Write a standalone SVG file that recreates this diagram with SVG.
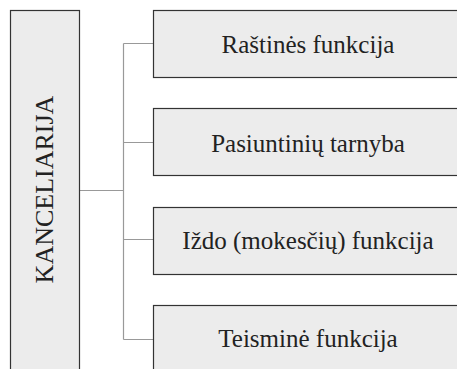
<svg xmlns="http://www.w3.org/2000/svg" width="457" height="369" viewBox="0 0 457 369">
<style>
.box{fill:#ececec;stroke:#333;stroke-width:1.2}
.t{font-size:25px;fill:#222;text-anchor:middle}
.c{fill:none;stroke:#999;stroke-width:1.2}
</style>
<rect width="457" height="369" fill="#fff"/>
<g id="connectors">
<path class="c" d="M79.5 190.5H123.5M123.5 43.5V339.5M123.5 43.5H153M123.5 142.5H153M123.5 239.5H153M123.5 339.5H153"/>
</g>
<g id="kanceliarija">
<rect class="box" x="10.5" y="10.5" width="69" height="370"/>
<text class="t" font-family="Liberation Serif, DejaVu Serif, serif" transform="translate(53,189.5) rotate(-90)" style="font-size:26px">KANCELIARIJA</text>
</g>
<g id="rastines">
<rect class="box" x="153.5" y="10.5" width="320" height="67"/>
<text class="t" font-family="Liberation Serif, DejaVu Serif, serif" x="308" y="53">Raštinės funkcija</text>
</g>
<g id="pasiuntiniu">
<rect class="box" x="153.5" y="108.5" width="320" height="67"/>
<text class="t" font-family="Liberation Serif, DejaVu Serif, serif" x="308" y="151.5">Pasiuntinių tarnyba</text>
</g>
<g id="izdo">
<rect class="box" x="153.5" y="207.5" width="320" height="67"/>
<text class="t" font-family="Liberation Serif, DejaVu Serif, serif" x="308" y="249">Iždo (mokesčių) funkcija</text>
</g>
<g id="teismine">
<rect class="box" x="153.5" y="305.5" width="320" height="80"/>
<text class="t" font-family="Liberation Serif, DejaVu Serif, serif" x="308" y="347">Teisminė funkcija</text>
</g>
</svg>
